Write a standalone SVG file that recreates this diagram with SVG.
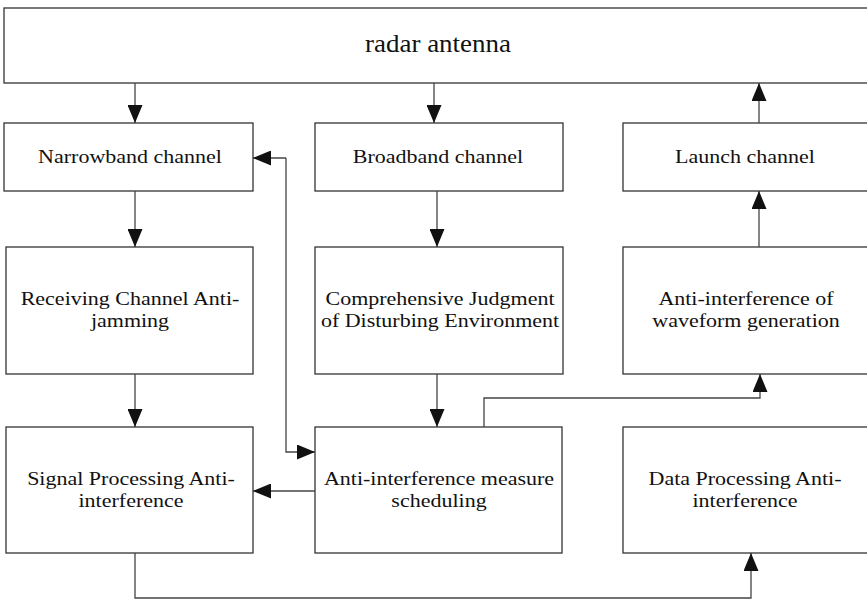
<svg xmlns="http://www.w3.org/2000/svg" width="867" height="601" viewBox="0 0 867 601">
<style>
.box{fill:#fff;stroke:#333;stroke-width:1.3}
.t{font-family:"Liberation Serif","Times New Roman",serif;font-size:19px;fill:#111;text-anchor:middle}
.big{font-size:25px}
.c{fill:none;stroke:#444;stroke-width:1.3}
</style>
<defs>
<marker id="ah" markerUnits="userSpaceOnUse" markerWidth="18" markerHeight="15" refX="18" refY="7.5" orient="auto">
<path d="M0,0 L18,7.5 L0,15 z" fill="#111"/>
</marker>
</defs>
<rect width="867" height="601" fill="#fff"/>
<g id="radar"><rect class="box" x="4" y="8" width="870" height="75"/><text class="t big" transform="translate(438,52) scale(1.08,1)">radar antenna</text></g>
<g id="narrowband"><rect class="box" x="4" y="123" width="249" height="68"/><text class="t" transform="translate(130,163) scale(1.158,1)">Narrowband channel</text></g>
<g id="broadband"><rect class="box" x="315" y="123" width="248" height="68"/><text class="t" transform="translate(438,163) scale(1.158,1)">Broadband channel</text></g>
<g id="launch"><rect class="box" x="623" y="123" width="250" height="68"/><text class="t" transform="translate(745,163) scale(1.158,1)">Launch channel</text></g>
<g id="receiving"><rect class="box" x="6" y="247" width="247" height="127"/><text class="t" transform="translate(130,305) scale(1.158,1)">Receiving Channel Anti-</text><text class="t" transform="translate(130,327) scale(1.158,1)">jamming</text></g>
<g id="comprehensive"><rect class="box" x="315" y="247" width="248" height="127"/><text class="t" transform="translate(440,305) scale(1.158,1)">Comprehensive Judgment</text><text class="t" transform="translate(440,327) scale(1.158,1)">of Disturbing Environment</text></g>
<g id="waveform"><rect class="box" x="623" y="247" width="250" height="127"/><text class="t" transform="translate(746,305) scale(1.158,1)">Anti-interference of</text><text class="t" transform="translate(746,327) scale(1.158,1)">waveform generation</text></g>
<g id="signal"><rect class="box" x="6" y="427" width="247" height="126"/><text class="t" transform="translate(131,485) scale(1.158,1)">Signal Processing Anti-</text><text class="t" transform="translate(131,507) scale(1.158,1)">interference</text></g>
<g id="measure"><rect class="box" x="315" y="427" width="247" height="126"/><text class="t" transform="translate(439,485) scale(1.158,1)">Anti-interference measure</text><text class="t" transform="translate(439,507) scale(1.158,1)">scheduling</text></g>
<g id="data"><rect class="box" x="623" y="427" width="250" height="126"/><text class="t" transform="translate(745,485) scale(1.158,1)">Data Processing Anti-</text><text class="t" transform="translate(745,507) scale(1.158,1)">interference</text></g>
<g id="connectors">
<path class="c" d="M135,83 V123" marker-end="url(#ah)"/>
<path class="c" d="M434,83 V123" marker-end="url(#ah)"/>
<path class="c" d="M759,123 V83" marker-end="url(#ah)"/>
<path class="c" d="M135,191 V247" marker-end="url(#ah)"/>
<path class="c" d="M437,191 V247" marker-end="url(#ah)"/>
<path class="c" d="M759,247 V191" marker-end="url(#ah)"/>
<path class="c" d="M135,374 V427" marker-end="url(#ah)"/>
<path class="c" d="M437,374 V427" marker-end="url(#ah)"/>
<path class="c" d="M484,427 V398 H760 V374" marker-end="url(#ah)"/>
<path class="c" d="M315,491 H253" marker-end="url(#ah)"/>
<path class="c" d="M286,158 V452 H315" marker-end="url(#ah)"/>
<path class="c" d="M286,158 H253" marker-end="url(#ah)"/>
<path class="c" d="M135,553 V598 H751 V553" marker-end="url(#ah)"/>
</g>
</svg>
